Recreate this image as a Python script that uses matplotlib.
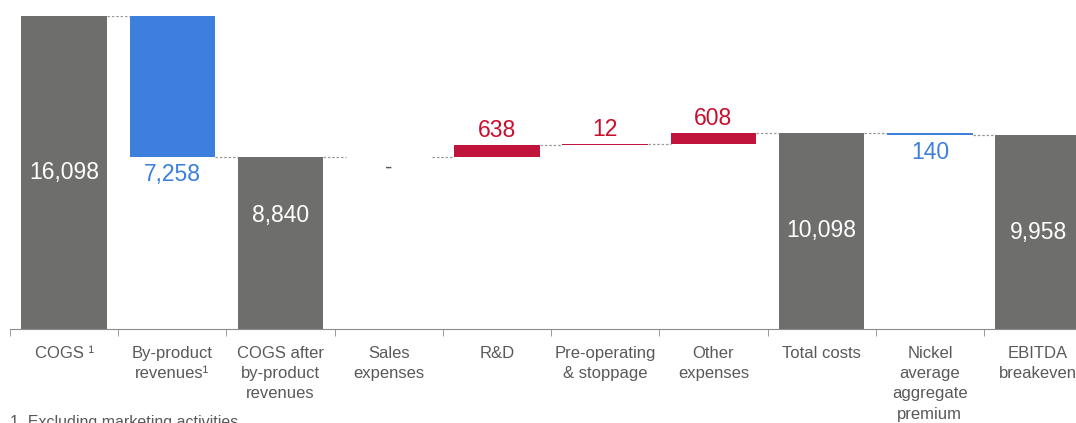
import matplotlib.pyplot as plt
import numpy as np

plt.rcParams['font.family'] = ['Liberation Sans', 'DejaVu Sans']

# waterfall steps: 'total' bars start at zero, 'up'/'down' float on the running level
categories = ['COGS \u00b9', 'By-product\nrevenues\u00b9', 'COGS after\nby-product\nrevenues',
              'Sales\nexpenses', 'R&D', 'Pre-operating\n& stoppage', 'Other\nexpenses',
              'Total costs', 'Nickel\naverage\naggregate\npremium', 'EBITDA\nbreakeven']
values = [16098, -7258, 8840, 0, 638, 12, 608, 10098, -140, 9958]
kinds = ['total', 'down', 'total', 'up', 'up', 'up', 'up', 'total', 'down', 'total']

grey = '#6e6f6d'
blue = '#3c7fdd'
red = '#c0143c'
txt = '#595959'

fig = plt.figure(figsize=(10.76, 4.23), dpi=100)
ax = fig.add_axes([10/1076, 94/423, 1066/1076, 313/423])

w = 0.79
x = np.arange(len(values))
level = 0
tops = []
for i, (v, k) in enumerate(zip(values, kinds)):
    if k == 'total':
        bottom, height, col = 0, v, grey
        level = v
    elif k == 'up':
        bottom, height, col = level, v, red
        level = level + v
    else:
        bottom, height, col = level + v, -v, blue
        level = level + v
    tops.append(level)
    if k == 'up' and v == 0:
        ax.text(i, level - 50, '-', ha='center', va='top', color=txt, fontsize=16)
        continue
    h = max(height, 60)
    ax.bar(i, h, width=w, bottom=bottom, color=col)
    if k == 'total':
        ax.text(i, v / 2 + (1400 if i == 2 else 0), f'{v:,}', ha='center', va='center',
                color='white', fontsize=16.5)
    elif k == 'up':
        ax.text(i, bottom + h + 130, f'{v:,}', ha='center', va='bottom', color='#c8102e', fontsize=16.5)
    else:
        ax.text(i, bottom - 280, f'{-v:,}', ha='center', va='top', color=blue, fontsize=16.5)

# dashed connectors between neighbouring bars
for i in range(len(values) - 1):
    ax.plot([i + w / 2, i + 1 - w / 2], [tops[i], tops[i]], color='#9a9a9a',
            lw=0.9, ls=(0, (2, 1.5)))

ax.set_xlim(-0.5, 9.35)
ax.set_ylim(0, 16098)
for s in ['top', 'right', 'left']:
    ax.spines[s].set_visible(False)
ax.spines['bottom'].set_color('#8c8c8c')
ax.set_yticks([])
ax.set_xticks(x)
ax.set_xticklabels(categories, color=txt, fontsize=12, linespacing=1.44)
ax.tick_params(axis='x', length=0, pad=12)
ax.set_xticks(np.arange(-0.5, 9.5, 1), minor=True)
ax.tick_params(axis='x', which='minor', length=5, color='#8c8c8c', direction='out')

fig.text(10/1076, -7/423, '1  Excluding marketing activities', color=txt, fontsize=11.5,
         va='bottom', ha='left')

fig.savefig('out.png', dpi=100)
